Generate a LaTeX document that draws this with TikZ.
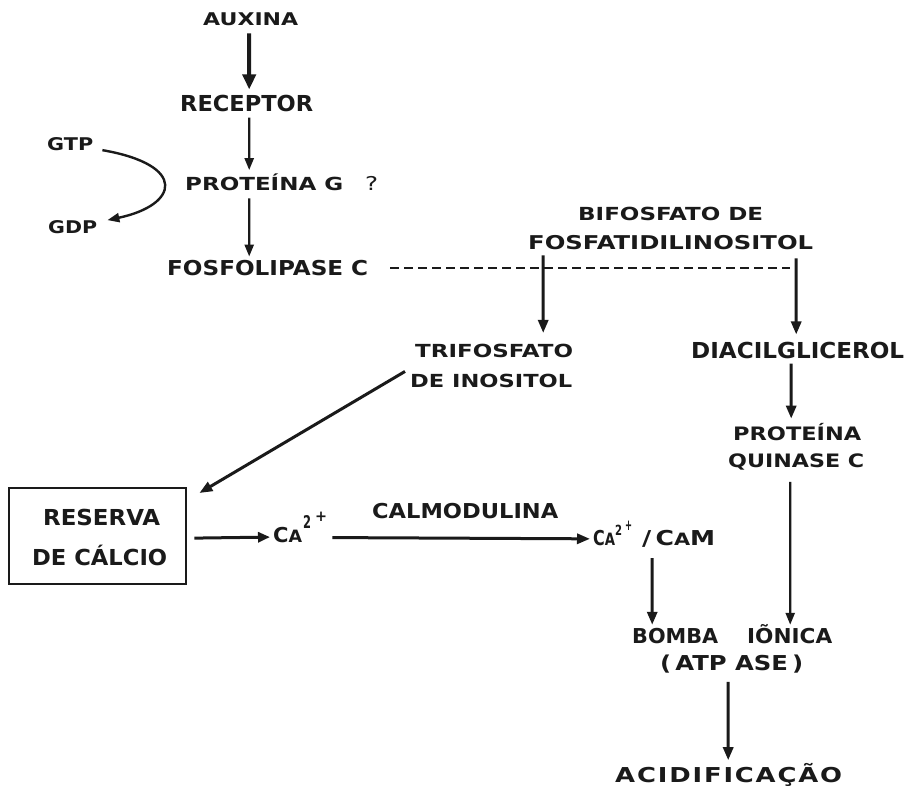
\documentclass[tikz,border=0pt]{standalone}
\usepackage{fontspec}
\setmainfont{DejaVu Sans}
\usetikzlibrary{arrows.meta}
\definecolor{ink}{HTML}{1A1A1A}
\newcommand\fs[1]{\bfseries\fontsize{#1}{#1}\selectfont}
\newcommand\lab[2]{\resizebox{#1pt}{\height}{#2}}
\newcommand\smA{{\fontsize{17}{17}\selectfont A}}
\begin{document}
\begin{tikzpicture}[x=1pt,y=-1pt,
  lbl/.style={inner sep=0pt, anchor=base west, text=ink},
  arr/.style={draw=ink, line width=3pt, -{Triangle[length=13pt,width=10pt]}},
  slimarr/.style={draw=ink, line width=2.4pt, -{Triangle[length=12pt,width=9pt]}},
  dashline/.style={draw=ink, line width=2pt, dash pattern=on 9pt off 5pt},
  boxst/.style={draw=ink, line width=2.4pt, inner sep=0pt, anchor=north west, minimum width=177pt, minimum height=96pt}
]
\fill[white] (0,0) rectangle (912,788);
\useasboundingbox (0,0) rectangle (912,788);

% labels
\node[lbl, font=\fs{17.5}] (auxina) at (203,25.5) {\lab{95}{AUXINA}};
\node[lbl, font=\fs{22}] (receptor) at (180,111) {\lab{133}{RECEPTOR}};
\node[lbl, font=\fs{18}] (protg) at (185,190) {\lab{158}{PROTEÍNA G}};
\node[lbl, font=\fontsize{19}{19}\selectfont] (qmark) at (365,190) {\lab{13}{?}};
\node[lbl, font=\fs{20.5}] (fosfo) at (167,275) {\lab{201}{FOSFOLIPASE C}};
\node[lbl, font=\fs{17.5}] (gtp) at (47,150) {\lab{46}{GTP}};
\node[lbl, font=\fs{17.5}] (gdp) at (48,233.5) {\lab{49}{GDP}};
\node[lbl, font=\fs{18}] (bif1) at (578,220) {\lab{185}{BIFOSFATO DE}};
\node[lbl, font=\fs{19}] (bif2) at (528,249) {\lab{285}{FOSFATIDILINOSITOL}};
\node[lbl, font=\fs{18}] (tri1) at (415,357) {\lab{158}{TRIFOSFATO}};
\node[lbl, font=\fs{18}] (tri2) at (410,387) {\lab{162}{DE INOSITOL}};
\node[lbl, font=\fs{22}] (dag) at (691,358) {\lab{213}{DIACILGLICEROL}};
\node[lbl, font=\fs{18.5}] (pkc1) at (733,440) {\lab{128}{PROTEÍNA}};
\node[lbl, font=\fs{18.5}] (pkc2) at (728,467) {\lab{136}{QUINASE C}};
\node[boxst] (box) at (8,487) {};
\node[lbl, font=\fs{22}] (res1) at (43,525) {\lab{117}{RESERVA}};
\node[lbl, font=\fs{22}] (res2) at (32,565) {\lab{135}{DE CÁLCIO}};
\node[lbl, font=\fs{20.5}] (ca1) at (273,542) {\lab{29}{C\smA}\kern1pt\smash{\raisebox{14pt}{\lab{8}{\fontsize{17.5}{17.5}\selectfont 2}}}\kern4pt\smash{\raisebox{21pt}{\lab{12}{\fontsize{15}{15}\selectfont +}}}};
\node[lbl, font=\fs{20.5}] (calmod) at (372,518) {\lab{186}{CALMODULINA}};
\node[lbl, font=\fs{20.5}] (ca2) at (593,545) {\lab{22}{C\smA}\smash{\raisebox{10pt}{\lab{7}{\fontsize{14}{14}\selectfont 2}}}\kern3pt\smash{\raisebox{15pt}{\lab{7}{\fontsize{15}{15}\selectfont +}}}\kern10pt\lab{73}{/\,C\smA M}};
\node[lbl, font=\fs{20.5}] (bomba) at (632,643) {\lab{86}{BOMBA}\hspace{29pt}\lab{85}{IÕNICA}};
\node[lbl, font=\fs{20.5}] (atp) at (660,670) {\lab{143}{(\,ATP ASE\,)}};
\node[lbl, font=\fs{20.5}] (acid) at (615,782) {\lab{227}{\makebox[180pt][s]{A\hfill C\hfill I\hfill D\hfill I\hfill F\hfill I\hfill C\hfill A\hfill Ç\hfill Ã\hfill O}}};

% connectors
\draw[arr, line width=4pt, -{Triangle[length=15pt,width=13pt]}, shorten <=7.5pt, shorten >=5pt] ([xshift=-1.5pt]auxina.south) -- ([xshift=2.5pt]receptor.north);
\draw[slimarr, shorten <=6pt, shorten >=3pt] ([xshift=2.5pt]receptor.south) -- ([xshift=-15pt]protg.north);
\draw[slimarr, shorten <=8pt, shorten >=3pt] ([xshift=-15pt]protg.south) -- ([xshift=-18.5pt]fosfo.north);
\draw[dashline, shorten <=22pt, shorten >=8pt] (fosfo.east) -- (fosfo.east -| dag.north);
\draw[arr, shorten <=6pt, shorten >=10.5pt] ([xshift=-127.5pt]bif2.south) -- ([xshift=49pt]tri1.north);
\draw[arr, shorten <=9pt, shorten >=7pt] ([xshift=125.5pt]bif2.south) -- ([xshift=-1.5pt]dag.north);
\draw[arr, shorten <=5pt, shorten >=4pt] ([xshift=-6.5pt]dag.south) -- ([xshift=-6pt]pkc1.north);
\draw[slimarr, shorten <=12pt, shorten >=-1pt] ([xshift=-6pt]pkc2.south) -- ([xshift=58pt]bomba.north);
\draw[arr, shorten <=11pt, shorten >=-1pt] ([xshift=-2pt]ca2.south) -- ([xshift=-80pt]bomba.north);
\draw[arr, shorten <=9pt, shorten >=2.5pt] ([xshift=-3.5pt]atp.south) -- ([xshift=-0.5pt]acid.north);
\draw[arr] ([xshift=-5pt,yshift=2pt]tri2.north west) -- ([xshift=12pt,yshift=-6pt]box.north east);
\draw[arr, -{Triangle[length=12pt,width=10pt]}, shorten <=7pt, shorten >=3pt] ([yshift=-2pt]box.east) -- ([yshift=-2.5pt]ca1.west);
\draw[arr, shorten <=5pt, shorten >=3pt] ([yshift=-3pt]ca1.east) -- ([yshift=-0.5pt]ca2.west);
\draw[draw=ink, line width=2.4pt, -{Triangle[length=12pt,width=9pt]}] ([xshift=9pt,yshift=-6.5pt]gtp.east) .. controls +(86,15) and +(71,-15) .. ([xshift=10pt,yshift=7pt]gdp.east);
\end{tikzpicture}
\end{document}
